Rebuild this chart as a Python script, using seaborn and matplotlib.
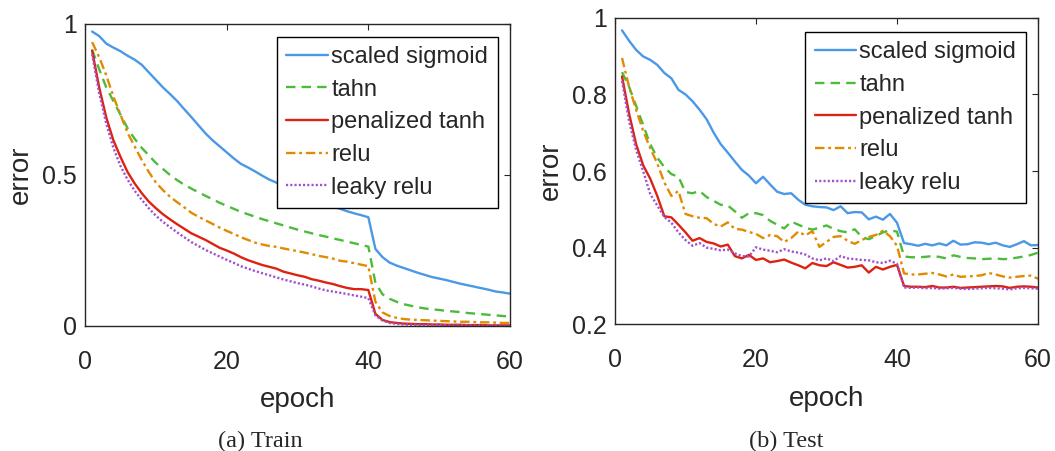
import numpy as np
import pandas as pd
import matplotlib
matplotlib.use("Agg")
import matplotlib.pyplot as plt
import seaborn as sns

# epochs and series names
epochs = list(range(1, 61))
names = ["scaled sigmoid", "tahn", "penalized tanh", "relu", "leaky relu"]

# train error
train_sigmoid = [0.975, 0.96, 0.935, 0.922, 0.91, 0.895, 0.882, 0.865, 0.84, 0.815,
                 0.79, 0.768, 0.745, 0.718, 0.692, 0.665, 0.638, 0.615, 0.595, 0.575,
                 0.555, 0.537, 0.525, 0.512, 0.498, 0.485, 0.475, 0.463, 0.452, 0.442,
                 0.432, 0.422, 0.412, 0.403, 0.395, 0.388, 0.38, 0.373, 0.367, 0.36,
                 0.255, 0.228, 0.21, 0.2, 0.192, 0.184, 0.176, 0.169, 0.162, 0.157,
                 0.152, 0.146, 0.14, 0.135, 0.13, 0.125, 0.12, 0.114, 0.111, 0.107]
train_tahn = [0.915, 0.85, 0.79, 0.745, 0.7, 0.655, 0.62, 0.59, 0.565, 0.54,
              0.52, 0.5, 0.483, 0.468, 0.455, 0.443, 0.431, 0.42, 0.408, 0.398,
              0.388, 0.378, 0.37, 0.362, 0.354, 0.347, 0.34, 0.333, 0.326, 0.319,
              0.313, 0.307, 0.301, 0.296, 0.29, 0.285, 0.279, 0.274, 0.268, 0.263,
              0.143, 0.105, 0.09, 0.08, 0.072, 0.067, 0.062, 0.058, 0.055, 0.053,
              0.05, 0.048, 0.046, 0.043, 0.041, 0.039, 0.037, 0.035, 0.033, 0.031]
train_ptanh = [0.912, 0.79, 0.69, 0.615, 0.56, 0.51, 0.472, 0.44, 0.412, 0.39,
               0.37, 0.353, 0.337, 0.322, 0.307, 0.296, 0.285, 0.272, 0.259, 0.25,
               0.24, 0.228, 0.218, 0.21, 0.202, 0.196, 0.19, 0.18, 0.174, 0.168,
               0.163, 0.155, 0.15, 0.144, 0.139, 0.132, 0.126, 0.122, 0.122, 0.119,
               0.04, 0.02, 0.013, 0.01, 0.008, 0.007, 0.006, 0.006, 0.005, 0.005,
               0.004, 0.004, 0.004, 0.003, 0.003, 0.003, 0.002, 0.002, 0.002, 0.002]
train_relu = [0.94, 0.89, 0.83, 0.76, 0.7, 0.64, 0.595, 0.55, 0.51, 0.475,
              0.45, 0.428, 0.41, 0.393, 0.375, 0.362, 0.35, 0.338, 0.326, 0.315,
              0.305, 0.294, 0.285, 0.276, 0.27, 0.265, 0.262, 0.257, 0.252, 0.248,
              0.243, 0.238, 0.232, 0.228, 0.223, 0.216, 0.213, 0.208, 0.203, 0.198,
              0.08, 0.045, 0.033, 0.027, 0.023, 0.021, 0.02, 0.019, 0.018, 0.017,
              0.016, 0.015, 0.014, 0.014, 0.013, 0.012, 0.012, 0.011, 0.01, 0.01]
train_leaky = [0.9, 0.77, 0.67, 0.59, 0.53, 0.485, 0.448, 0.418, 0.39, 0.365,
               0.345, 0.327, 0.31, 0.294, 0.278, 0.265, 0.252, 0.241, 0.23, 0.219,
               0.209, 0.198, 0.19, 0.182, 0.175, 0.168, 0.161, 0.154, 0.148, 0.142,
               0.137, 0.131, 0.124, 0.118, 0.114, 0.11, 0.106, 0.101, 0.097, 0.092,
               0.035, 0.018, 0.01, 0.007, 0.005, 0.004, 0.004, 0.003, 0.003, 0.003,
               0.002, 0.002, 0.002, 0.002, 0.001, 0.001, 0.001, 0.001, 0.001, 0.001]

# test error
test_sigmoid = [0.967, 0.94, 0.916, 0.899, 0.89, 0.877, 0.856, 0.842, 0.812, 0.8,
                0.782, 0.76, 0.735, 0.7, 0.67, 0.648, 0.625, 0.603, 0.588, 0.568,
                0.585, 0.565, 0.546, 0.54, 0.542, 0.525, 0.512, 0.508, 0.506, 0.505,
                0.498, 0.508, 0.49, 0.493, 0.492, 0.474, 0.481, 0.473, 0.488, 0.465,
                0.412, 0.409, 0.405, 0.41, 0.406, 0.411, 0.406, 0.418, 0.408, 0.409,
                0.414, 0.413, 0.409, 0.413, 0.406, 0.402, 0.409, 0.417, 0.406, 0.407]
test_tahn = [0.858, 0.82, 0.77, 0.72, 0.67, 0.635, 0.61, 0.592, 0.585, 0.545,
             0.542, 0.548, 0.532, 0.522, 0.512, 0.51, 0.495, 0.478, 0.49, 0.49,
             0.485, 0.47, 0.46, 0.45, 0.468, 0.46, 0.452, 0.447, 0.452, 0.458,
             0.449, 0.443, 0.44, 0.448, 0.428, 0.422, 0.43, 0.44, 0.445, 0.442,
             0.377, 0.375, 0.375, 0.376, 0.378, 0.376, 0.372, 0.38, 0.376, 0.373,
             0.372, 0.37, 0.371, 0.372, 0.37, 0.371, 0.374, 0.377, 0.381, 0.387]
test_ptanh = [0.847, 0.75, 0.67, 0.615, 0.58, 0.535, 0.482, 0.479, 0.46, 0.44,
              0.418, 0.425, 0.415, 0.411, 0.403, 0.408, 0.378, 0.372, 0.381, 0.368,
              0.372, 0.362, 0.365, 0.369, 0.361, 0.354, 0.346, 0.36, 0.354, 0.352,
              0.362, 0.355, 0.348, 0.35, 0.354, 0.335, 0.35, 0.343, 0.35, 0.355,
              0.3, 0.298, 0.298, 0.297, 0.3, 0.296, 0.296, 0.298, 0.295, 0.296,
              0.297, 0.298, 0.299, 0.3, 0.299, 0.295, 0.298, 0.299, 0.298, 0.296]
test_relu = [0.895, 0.82, 0.76, 0.705, 0.66, 0.62, 0.57, 0.535, 0.548, 0.488,
             0.482, 0.478, 0.477, 0.462, 0.455, 0.466, 0.449, 0.447, 0.441, 0.436,
             0.425, 0.433, 0.43, 0.415, 0.425, 0.442, 0.432, 0.443, 0.402, 0.415,
             0.428, 0.43, 0.418, 0.41, 0.42, 0.428, 0.433, 0.444, 0.43, 0.405,
             0.333, 0.33, 0.33, 0.332, 0.334, 0.33, 0.325, 0.33, 0.324, 0.325,
             0.326, 0.328, 0.334, 0.33, 0.325, 0.322, 0.324, 0.326, 0.327, 0.319]
test_leaky = [0.835, 0.73, 0.655, 0.6, 0.54, 0.51, 0.48, 0.465, 0.44, 0.42,
              0.405, 0.412, 0.4, 0.397, 0.393, 0.395, 0.385, 0.378, 0.377, 0.401,
              0.395, 0.392, 0.388, 0.396, 0.39, 0.387, 0.382, 0.372, 0.367, 0.372,
              0.365, 0.378, 0.372, 0.37, 0.368, 0.367, 0.362, 0.36, 0.366, 0.358,
              0.296, 0.295, 0.296, 0.294, 0.295, 0.293, 0.294, 0.295, 0.293, 0.292,
              0.293, 0.294, 0.295, 0.294, 0.293, 0.291, 0.294, 0.295, 0.294, 0.293]

colors = {"scaled sigmoid": "#4a98e6", "tahn": "#4cbb3c", "penalized tanh": "#dd2211",
          "relu": "#e08b00", "leaky relu": "#9f52cc"}
dashes = {"scaled sigmoid": "", "tahn": (4, 2.6), "penalized tanh": "",
          "relu": (4, 1.6, 1.2, 1.6), "leaky relu": (0.9, 0.9)}

sns.set_theme(style="white")
plt.rcParams["font.family"] = ["Liberation Sans", "DejaVu Sans"]
plt.rcParams["axes.edgecolor"] = "#262626"
plt.rcParams["axes.linewidth"] = 1.0


def long_form(series):
    rows = []
    for name, vals in zip(names, series):
        for e, v in zip(epochs, vals):
            rows.append((e, v, name))
    return pd.DataFrame(rows, columns=["epoch", "error", "act"])


train = long_form([train_sigmoid, train_tahn, train_ptanh, train_relu, train_leaky])
test = long_form([test_sigmoid, test_tahn, test_ptanh, test_relu, test_leaky])

fig = plt.figure(figsize=(10.55, 4.51), dpi=100)
ax1 = fig.add_axes([0.0806, 0.2772, 0.4028, 0.6696])
ax2 = fig.add_axes([0.5829, 0.2809, 0.4010, 0.6798])

for ax, df, ylim, yticks, yticklabels in [
        (ax1, train, (0, 1), [0, 0.5, 1], ["0", "0.5", "1"]),
        (ax2, test, (0.2, 1), [0.2, 0.4, 0.6, 0.8, 1], ["0.2", "0.4", "0.6", "0.8", "1"])]:
    sns.lineplot(data=df, x="epoch", y="error", hue="act", style="act",
                 hue_order=names, style_order=names, palette=colors, dashes=dashes,
                 linewidth=1.7, ax=ax)
    ax.set_xlim(0, 60)
    ax.set_ylim(*ylim)
    ax.set_xticks([0, 20, 40, 60])
    ax.set_xticklabels(["0", "20", "40", "60"])
    ax.set_yticks(yticks)
    ax.set_yticklabels(yticklabels)
    ax.tick_params(direction="in", top=True, right=True, length=4, width=0.8,
                   labelsize=18, colors="#262626")
    ax.tick_params(axis="x", pad=17)
    ax.tick_params(axis="y", pad=6)
    ax.set_xlabel("epoch", fontsize=20, color="#262626", labelpad=10)
    ax.set_ylabel("error", fontsize=20, color="#262626", labelpad=6)
    for s in ax.spines.values():
        s.set_visible(True)

legend_style = dict(title=None, frameon=True, fontsize=17, handlelength=1.75,
                    handletextpad=0.15, labelspacing=0.45, borderpad=0.4,
                    borderaxespad=0, fancybox=False, edgecolor="black", framealpha=1)
sns.move_legend(ax1, "upper right", bbox_to_anchor=(0.971, 0.958), **legend_style)
sns.move_legend(ax2, "upper right", bbox_to_anchor=(0.971, 0.954), **legend_style)
for ax in (ax1, ax2):
    ax.get_legend().get_frame().set_linewidth(1.0)

fig.text(260 / 1055, 1 - 441 / 451, "(a) Train", ha="center", va="center",
         fontsize=17.5, family="Liberation Serif")
fig.text(786 / 1055, 1 - 441 / 451, "(b) Test", ha="center", va="center",
         fontsize=17.5, family="Liberation Serif")

fig.savefig("out.png", dpi=100)
